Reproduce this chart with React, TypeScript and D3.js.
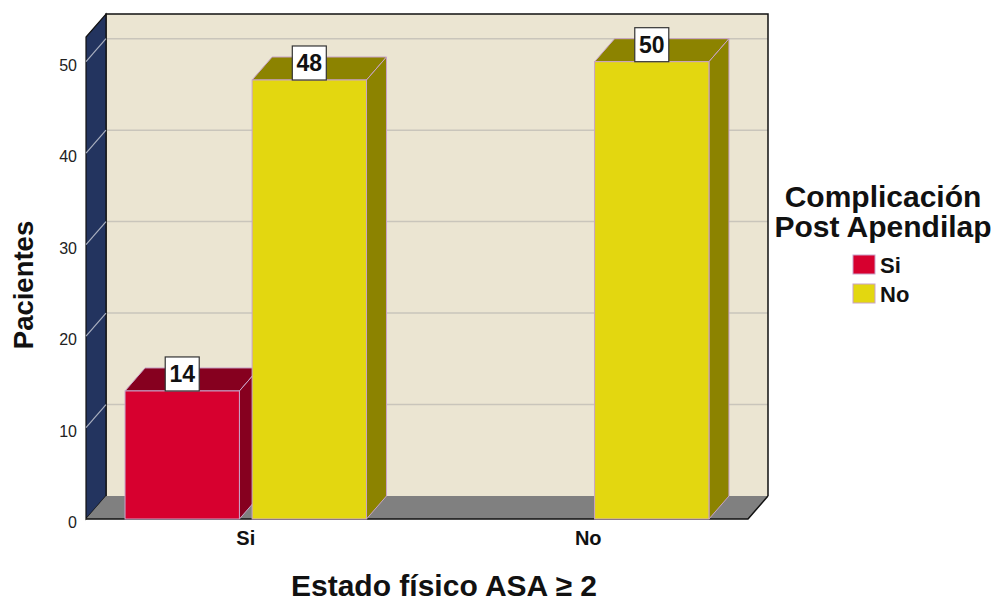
import React from "react";
import * as d3 from "d3";

const categories = ["Si", "No"];
const seriesNames = ["Si", "No"];
const seriesSi = [14, 0];
const seriesNo = [48, 50];
const yTicks = [0, 10, 20, 30, 40, 50];
const seriesColors = ["#d7002f", "#e3d710"];
const seriesDark = ["#86001f", "#8c8300"];

const W = 994;
const H = 602;
const DX = 20;
const DY = -23;
const FONT = "'Liberation Sans', Arial, sans-serif";

export default function App() {
  const y = d3.scaleLinear().domain([0, 52.7]).range([519, 37]);
  const x = d3
    .scaleBand<string>()
    .domain(categories)
    .range([86, 748])
    .paddingInner(0.295)
    .paddingOuter(0.114);
  const xs = d3
    .scaleBand<string>()
    .domain(seriesNames)
    .range([0, x.bandwidth()])
    .paddingInner(0.1);

  const y0 = y(0);
  const yTop = y(52.7);
  const left = 86;
  const right = 748;
  const pts = (a: number[][]) => a.map((p) => p.join(",")).join(" ");

  const bars: any[] = [];
  categories.forEach((c, ci) => {
    [seriesSi, seriesNo].forEach((vals, si) => {
      const v = vals[ci];
      if (!v) return;
      const x0 = (x(c) as number) + (xs(seriesNames[si]) as number);
      const x1 = x0 + xs.bandwidth();
      bars.push({ x0, x1, yt: y(v), v, si, key: c + si });
    });
  });

  return (
    <svg
      width={W}
      height={H}
      style={{ position: "absolute", left: 0, top: 0, background: "#fff" }}
      fontFamily={FONT}
    >
      {/* back wall */}
      <rect
        x={left + DX}
        y={yTop + DY}
        width={right - left}
        height={y0 - yTop}
        fill="#ebe5d2"
      />
      {yTicks.filter((t) => t > 0).map((t) => (
        <line
          key={"g" + t}
          x1={left + DX}
          x2={right + DX}
          y1={y(t) + DY}
          y2={y(t) + DY}
          stroke="#c9c5bb"
          strokeWidth={1.5}
        />
      ))}
      <path
        d={`M${left + DX},${y0 + DY} V${yTop + DY} H${right + DX} V${y0 + DY}`}
        fill="none"
        stroke="#111"
        strokeWidth={1.5}
      />
      {/* left wall */}
      <polygon
        points={pts([
          [left, y0],
          [left, yTop],
          [left + DX, yTop + DY],
          [left + DX, y0 + DY],
        ])}
        fill="#23345f"
        stroke="#111"
        strokeWidth={1.2}
      />
      {yTicks.filter((t) => t > 0).map((t) => (
        <line
          key={"lw" + t}
          x1={left}
          x2={left + DX}
          y1={y(t)}
          y2={y(t) + DY}
          stroke="#aab0c0"
          strokeWidth={1.2}
        />
      ))}
      {/* floor */}
      <polygon
        points={pts([
          [left, y0],
          [right, y0],
          [right + DX, y0 + DY],
          [left + DX, y0 + DY],
        ])}
        fill="#808080"
      />
      <path
        d={`M${left},${y0} H${right} L${right + DX},${y0 + DY}`}
        fill="none"
        stroke="#111"
        strokeWidth={1.5}
      />
      {/* bars */}
      {bars.map((b) => (
        <g key={b.key} stroke="#c9a3c9" strokeWidth={1}>
          <polygon
            points={pts([
              [b.x0, b.yt],
              [b.x0 + DX, b.yt + DY],
              [b.x1 + DX, b.yt + DY],
              [b.x1, b.yt],
            ])}
            fill={seriesDark[b.si]}
          />
          <polygon
            points={pts([
              [b.x1, b.yt],
              [b.x1 + DX, b.yt + DY],
              [b.x1 + DX, y0 + DY],
              [b.x1, y0],
            ])}
            fill={seriesDark[b.si]}
          />
          <rect
            x={b.x0}
            y={b.yt}
            width={b.x1 - b.x0}
            height={y0 - b.yt}
            fill={seriesColors[b.si]}
          />
        </g>
      ))}
      {/* value labels */}
      {bars.map((b) => {
        const cx = (b.x0 + b.x1) / 2;
        return (
          <g key={"l" + b.key}>
            <rect
              x={cx - 17}
              y={b.yt - 34}
              width={34}
              height={34}
              fill="#fff"
              stroke="#333"
              strokeWidth={1.2}
            />
            <text
              x={cx}
              y={b.yt - 9}
              textAnchor="middle"
              fontSize={23}
              fontWeight="bold"
              fill="#111"
            >
              {b.v}
            </text>
          </g>
        );
      })}
      {/* y tick labels */}
      {yTicks.map((t) => (
        <text
          key={"t" + t}
          x={77}
          y={y(t) + 9}
          textAnchor="end"
          fontSize={16}
          fill="#222"
        >
          {t}
        </text>
      ))}
      {/* x labels */}
      {categories.map((c) => (
        <text
          key={"x" + c}
          x={(x(c) as number) + x.bandwidth() / 2}
          y={545}
          textAnchor="middle"
          fontSize={20}
          fontWeight="bold"
          fill="#111"
        >
          {c}
        </text>
      ))}
      <text
        x={444}
        y={596}
        textAnchor="middle"
        fontSize={30}
        fontWeight="bold"
        fill="#111"
      >
        Estado físico ASA ≥ 2
      </text>
      <text
        transform={`translate(33,285) rotate(-90)`}
        textAnchor="middle"
        fontSize={27.5}
        fontWeight="bold"
        fill="#111"
      >
        Pacientes
      </text>
      {/* legend */}
      <text x={883} y={207} textAnchor="middle" fontSize={30} fontWeight="bold" fill="#111">
        Complicación
      </text>
      <text x={883} y={237} textAnchor="middle" fontSize={30} fontWeight="bold" fill="#111">
        Post Apendilap
      </text>
      {seriesNames.map((s, i) => (
        <g key={"lg" + s}>
          <rect
            x={853}
            y={255 + i * 29}
            width={22}
            height={19}
            fill={seriesColors[i]}
            stroke="#c9a3c9"
            strokeWidth={1}
          />
          <text x={880} y={273 + i * 29} fontSize={22} fontWeight="bold" fill="#111">
            {s}
          </text>
        </g>
      ))}
    </svg>
  );
}
